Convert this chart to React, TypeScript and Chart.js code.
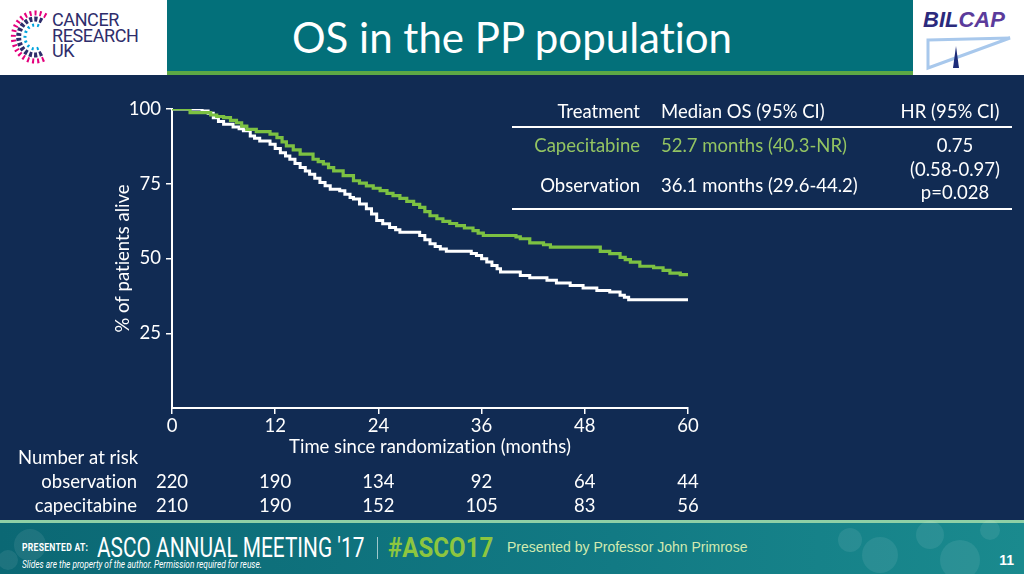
import React, { useEffect, useRef } from "react";
import { Chart, registerables } from "chart.js";
Chart.register(...registerables);

// ---- Data ----
const obsMonths = [0, 3.5, 4.2, 4.8, 5.4, 6.0, 7.1, 7.8, 8.3, 9.1, 9.6, 10.2, 11.4, 12.0, 12.6, 13.2, 13.7, 14.3, 14.9, 15.5, 16.0, 16.6, 17.2, 17.8, 18.4, 19.5, 20.1, 20.7, 21.1, 21.8, 22.6, 23.2, 23.8, 24.5, 25.3, 26.0, 26.5, 28.8, 29.4, 30.0, 30.6, 31.2, 31.9, 34.8, 35.4, 36.0, 36.6, 37.2, 37.8, 38.2, 40.5, 41.6, 43.6, 44.7, 46.3, 47.8, 49.4, 50.9, 52.1, 52.6, 53.1, 60];
const obsSurvival = [100, 99.3, 98.6, 97.1, 95.8, 94.9, 94.0, 93.4, 92.7, 91.0, 90.2, 89.3, 88.2, 86.8, 85.4, 84.3, 83.2, 81.8, 80.4, 79.3, 78.2, 76.8, 75.4, 74.3, 73.2, 72.7, 71.5, 70.4, 69.9, 68.2, 66.6, 64.9, 62.7, 61.6, 60.4, 59.6, 58.8, 57.7, 56.3, 54.9, 54.0, 53.2, 52.4, 51.7, 51.0, 49.9, 48.8, 47.7, 46.6, 45.5, 44.3, 43.6, 42.7, 41.8, 41.0, 40.1, 39.3, 38.8, 37.7, 37.0, 36.2, 36.2];

const capMonths = [0, 2.1, 4.5, 5.2, 6.0, 6.8, 7.5, 8.1, 8.7, 9.8, 11.4, 12.2, 12.8, 13.3, 14.1, 14.9, 16.4, 17.0, 17.6, 18.2, 18.8, 19.9, 21.1, 21.8, 22.6, 23.4, 24.2, 25.0, 25.7, 26.5, 27.3, 28.1, 28.8, 29.4, 30.0, 30.8, 31.5, 32.3, 33.1, 34.0, 35.0, 35.6, 36.2, 40.0, 40.5, 41.6, 43.2, 44.0, 49.8, 50.9, 52.1, 52.7, 53.3, 54.4, 56.0, 57.1, 57.9, 59.1, 60];
const capSurvival = [100, 98.8, 98.0, 97.5, 97.1, 96.2, 95.4, 94.3, 93.2, 92.4, 91.6, 90.4, 89.0, 87.7, 86.3, 84.9, 83.2, 82.4, 81.6, 80.4, 79.3, 77.7, 76.0, 75.2, 74.3, 73.5, 72.7, 71.8, 71.0, 70.1, 69.1, 68.1, 67.1, 65.7, 64.3, 63.3, 62.4, 61.7, 61.0, 60.2, 59.3, 58.5, 57.7, 57.2, 56.6, 55.2, 54.6, 53.8, 52.4, 51.6, 50.4, 49.6, 48.8, 47.4, 46.9, 46.0, 45.1, 44.6, 44.6];

const xTicks = [0, 12, 24, 36, 48, 60];
const yTicks = [25, 50, 75, 100];
const riskTimes = [0, 12, 24, 36, 48, 60];
const riskObservation = [220, 190, 134, 92, 64, 44];
const riskCapecitabine = [210, 190, 152, 105, 83, 56];
const riskLabels = ["observation", "capecitabine"];

const NAVY = "#112b53";
const TEAL = "#03707a";
const GREEN_LINE = "#7cc142";
const GREEN_TEXT = "#93c462";
const FONT = "Lato, 'Open Sans', sans-serif";
const FS = 18.5;

const riskPlugin = {
  id: "numberAtRisk",
  afterDraw(chart: any) {
    const ctx = chart.ctx;
    const xs = chart.scales.x;
    ctx.save();
    ctx.fillStyle = "#ffffff";
    ctx.font = `${FS}px ${FONT}`;
    ctx.textBaseline = "middle";
    ctx.textAlign = "left";
    ctx.fillText("Number at risk", 18, 458);
    ctx.textAlign = "right";
    ctx.fillText(riskLabels[0], 137, 482);
    ctx.fillText(riskLabels[1], 137, 506);
    ctx.textAlign = "center";
    riskTimes.forEach((t, i) => {
      const px = xs.getPixelForValue(t);
      ctx.fillText(String(riskObservation[i]), px, 482);
      ctx.fillText(String(riskCapecitabine[i]), px, 506);
    });
    ctx.restore();
  },
};

function CrukLogo() {
  return (
    <svg width={48} height={60} style={{ position: "absolute", left: 6, top: 6 }}>
      <path d="M40 10 A 22 24 0 1 0 40 52" fill="none" stroke="#e4007d" strokeWidth={5} strokeDasharray="2 3" />
      <path d="M36 15 A 16 18 0 1 0 36 47" fill="none" stroke="#2e2d6b" strokeWidth={5} strokeDasharray="3 2" />
      <path d="M33 20 A 10 12 0 1 0 33 42" fill="none" stroke="#00a3dd" strokeWidth={3} strokeDasharray="2 3" />
    </svg>
  );
}

function BilcapLogo() {
  return (
    <svg width={104} height={72} style={{ position: "absolute", left: 918, top: 2 }}>
      <text x={5} y={25} fontFamily="'Liberation Sans', Arial, sans-serif" fontWeight="bold" fontStyle="italic" fontSize={22} fill="#2b2a7c">
        BIL<tspan fill="#5b3b9b">CAP</tspan>
      </text>
      <polygon points="10,38 92,36 10,66" fill="none" stroke="#a8c8ec" strokeWidth={3} />
      <polygon points="35,66 38,44 41,66" fill="#1d2c7a" />
    </svg>
  );
}

export default function App() {
  const canvasRef = useRef<HTMLCanvasElement>(null);

  useEffect(() => {
    document.body.style.margin = "0";
    const chart = new Chart(canvasRef.current as HTMLCanvasElement, {
      type: "line",
      data: {
        datasets: [
          {
            label: "Capecitabine",
            data: capMonths.map((m, i) => ({ x: m, y: capSurvival[i] })),
            borderColor: GREEN_LINE,
            borderWidth: 3.2,
            stepped: "before",
            pointRadius: 0,
            order: 0,
          },
          {
            label: "Observation",
            data: obsMonths.map((m, i) => ({ x: m, y: obsSurvival[i] })),
            borderColor: "#ffffff",
            borderWidth: 3,
            stepped: "before",
            pointRadius: 0,
            order: 1,
          },
        ],
      },
      options: {
        responsive: false,
        animation: false,
        layout: { padding: { left: 112, right: 336, top: 109, bottom: 116 } },
        plugins: { legend: { display: false }, tooltip: { enabled: false } },
        scales: {
          x: {
            type: "linear",
            min: 0,
            max: 60,
            afterFit: (s: any) => {
              s.height = 50;
            },
            afterBuildTicks: (s: any) => {
              s.ticks = xTicks.map((v) => ({ value: v }));
            },
            ticks: { color: "#ffffff", font: { family: FONT, size: FS }, padding: 1, maxRotation: 0, autoSkip: false },
            grid: { display: true, drawOnChartArea: false, drawTicks: true, tickLength: 6, color: "#ffffff", lineWidth: 1.5 },
            border: { display: true, color: "#ffffff", width: 2 },
            title: {
              display: true,
              text: "Time since randomization (months)",
              color: "#ffffff",
              font: { family: FONT, size: FS },
              padding: { top: 0, bottom: 0 },
            },
          },
          y: {
            type: "linear",
            min: 0,
            max: 100,
            afterFit: (s: any) => {
              s.width = 60;
            },
            afterBuildTicks: (s: any) => {
              s.ticks = yTicks.map((v) => ({ value: v }));
            },
            ticks: { color: "#ffffff", font: { family: FONT, size: FS }, padding: 5 },
            grid: { display: true, drawOnChartArea: false, drawTicks: true, tickLength: 6, color: "#ffffff", lineWidth: 1.5 },
            border: { display: true, color: "#ffffff", width: 2 },
            title: {
              display: true,
              text: "% of patients alive",
              color: "#ffffff",
              font: { family: FONT, size: FS },
              padding: { top: 0, bottom: 0 },
            },
          },
        },
      },
      plugins: [riskPlugin],
    } as any);
    return () => chart.destroy();
  }, []);

  const txt = (extra: React.CSSProperties): React.CSSProperties => ({
    position: "absolute",
    fontFamily: FONT,
    fontSize: FS,
    lineHeight: "20px",
    color: "#ffffff",
    whiteSpace: "nowrap",
    fontVariantLigatures: "none",
    ...extra,
  });

  const narrow = "'Liberation Sans Narrow', Roboto, 'Liberation Sans', sans-serif";

  return (
    <div style={{ position: "relative", width: 1024, height: 574, background: NAVY, overflow: "hidden", fontFamily: FONT, fontVariantLigatures: "none" }}>
      {/* Header */}
      <div style={{ position: "absolute", left: 0, top: 0, width: 1024, height: 75, background: "#ffffff" }} />
      <div style={{ position: "absolute", left: 167, top: 0, width: 746, height: 71, background: TEAL }} />
      <div style={{ position: "absolute", left: 167, top: 71, width: 746, height: 4, background: "#5da845" }} />
      <CrukLogo />
      <div style={{ position: "absolute", left: 52, top: 12, fontFamily: "Roboto, sans-serif", fontSize: 18, lineHeight: "15.5px", letterSpacing: -0.4, color: "#2e2d6b" }}>
        CANCER<br />RESEARCH<br />UK
      </div>
      <BilcapLogo />
      <div style={{ position: "absolute", left: 0, top: 12, width: 1024, textAlign: "center", fontFamily: FONT, fontSize: 42, lineHeight: "50px", color: "#ffffff", fontVariantLigatures: "none" }}>
        OS in the PP population
      </div>

      <canvas ref={canvasRef} width={1024} height={574} style={{ position: "absolute", left: 0, top: 0, width: 1024, height: 574 }} />

      {/* Results table */}
      <div style={txt({ left: 500, width: 140, top: 101, textAlign: "right" })}>Treatment</div>
      <div style={txt({ left: 661, top: 101 })}>Median OS (95% CI)</div>
      <div style={txt({ left: 880, width: 140, top: 101, textAlign: "center" })}>HR (95% CI)</div>
      <div style={{ position: "absolute", left: 512, top: 126, width: 500, height: 2, background: "#ffffff" }} />
      <div style={txt({ left: 500, width: 140, top: 135, textAlign: "right", color: GREEN_TEXT })}>Capecitabine</div>
      <div style={txt({ left: 661, top: 135, color: GREEN_TEXT })}>52.7 months (40.3-NR)</div>
      <div style={txt({ left: 885, width: 140, top: 135, textAlign: "center" })}>0.75</div>
      <div style={txt({ left: 885, width: 140, top: 159, textAlign: "center" })}>(0.58-0.97)</div>
      <div style={txt({ left: 500, width: 140, top: 175, textAlign: "right" })}>Observation</div>
      <div style={txt({ left: 661, top: 175 })}>36.1 months (29.6-44.2)</div>
      <div style={txt({ left: 885, width: 140, top: 182, textAlign: "center" })}>p=0.028</div>
      <div style={{ position: "absolute", left: 512, top: 208, width: 500, height: 2, background: "#ffffff" }} />

      {/* Footer */}
      <div style={{ position: "absolute", left: 0, top: 520, width: 1024, height: 3, background: "#8fd0a6" }} />
      <div style={{ position: "absolute", left: 0, top: 523, width: 1024, height: 51, background: "linear-gradient(90deg, #0b6874 0%, #127a84 60%, #1a8a8e 100%)" }} />
      {[
        [30, 545, 16],
        [8, 560, 10],
        [850, 540, 12],
        [880, 555, 18],
        [930, 535, 14],
        [960, 560, 20],
        [990, 530, 10],
      ].map(([cx, cy, r], i) => (
        <div key={i} style={{ position: "absolute", left: cx - r, top: cy - r, width: 2 * r, height: 2 * r, borderRadius: "50%", background: "rgba(255,255,255,0.08)" }} />
      ))}
      <div style={{ position: "absolute", left: 22, top: 542, fontFamily: narrow, fontWeight: "bold", fontSize: 10, color: "#ffffff", letterSpacing: 0.3, transform: "scaleX(0.86)", transformOrigin: "left center", whiteSpace: "nowrap" }}>PRESENTED AT:</div>
      <div style={{ position: "absolute", left: 97, top: 532, fontFamily: narrow, fontSize: 28, lineHeight: "32px", color: "#ffffff", transform: "scaleX(0.745)", transformOrigin: "left center", whiteSpace: "nowrap" }}>ASCO ANNUAL MEETING '17</div>
      <div style={{ position: "absolute", left: 377, top: 537, width: 1, height: 22, background: "rgba(255,255,255,0.6)" }} />
      <div style={{ position: "absolute", left: 388, top: 532, fontFamily: narrow, fontWeight: "bold", fontSize: 28, lineHeight: "32px", color: "#8dc63f", transform: "scaleX(0.86)", transformOrigin: "left center", whiteSpace: "nowrap" }}>#ASCO17</div>
      <div style={{ position: "absolute", left: 507, top: 539, fontFamily: "'Liberation Sans', Arial, sans-serif", fontSize: 14, lineHeight: "17px", color: "#d2eab0", whiteSpace: "nowrap" }}>Presented by Professor John Primrose</div>
      <div style={{ position: "absolute", left: 22, top: 559, fontFamily: narrow, fontStyle: "italic", fontSize: 10, lineHeight: "12px", color: "#ffffff", transform: "scaleX(0.83)", transformOrigin: "left center", whiteSpace: "nowrap" }}>Slides are the property of the author. Permission required for reuse.</div>
      <div style={{ position: "absolute", left: 990, top: 552, width: 24, textAlign: "right", fontFamily: "'Liberation Sans', Arial, sans-serif", fontWeight: "bold", fontSize: 14, lineHeight: "16px", color: "#ffffff" }}>11</div>
    </div>
  );
}
